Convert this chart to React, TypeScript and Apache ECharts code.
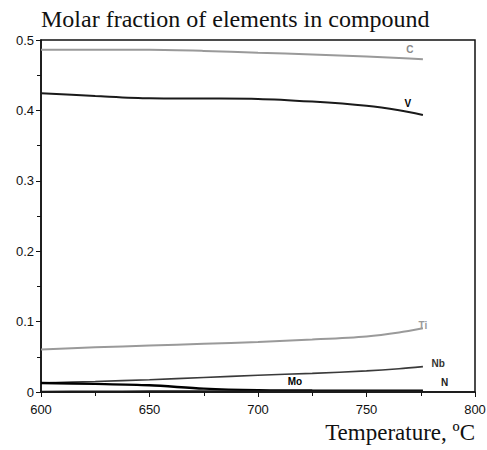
import React, { useEffect, useRef } from "react";
import * as echarts from "echarts";

const temps = [600, 625, 650, 675, 700, 725, 750, 765, 776];
const cVals = [0.486, 0.486, 0.486, 0.4845, 0.4818, 0.4795, 0.4765, 0.4745, 0.4726];
const vVals = [0.4243, 0.4205, 0.4172, 0.4168, 0.4163, 0.4125, 0.4065, 0.4002, 0.3935];
const tiVals = [0.0605, 0.0635, 0.066, 0.0685, 0.071, 0.0745, 0.079, 0.0845, 0.0905];
const nbVals = [0.0128, 0.015, 0.0175, 0.0205, 0.0238, 0.0265, 0.03, 0.033, 0.036];
const moVals = [0.0128, 0.0115, 0.0095, 0.0048, 0.0026, 0.0021, 0.002, 0.002, 0.002];
const nVals = [0.0005, 0.0007, 0.0009, 0.001, 0.0011, 0.0012, 0.0012, 0.0012, 0.0012];

const seriesNames = ["C", "V", "Ti", "Nb", "Mo", "N"];
const seriesColors = ["#9a9a9a", "#1a1a1a", "#9a9a9a", "#3a3a3a", "#000000", "#1a1a1a"];
const seriesWidths = [2, 2, 2, 1.6, 2.4, 2];
const labelX = [770, 769, 776, 783, 717, 786];
const labelY = [0.486, 0.4105, 0.095, 0.040, 0.0156, 0.0128];
const labelColors = ["#8a8a8a", "#000", "#9a9a9a", "#333", "#000", "#222"];

const xTicks = [600, 650, 700, 750, 800];
const yTicks = [0, 0.1, 0.2, 0.3, 0.4, 0.5];

export default function App() {
  const ref = useRef<HTMLDivElement>(null);
  useEffect(() => {
    if (!ref.current) return;
    document.body.style.margin = "0";
    const chart = echarts.init(ref.current, null, { renderer: "svg" });
    const allVals = [cVals, vVals, tiVals, nbVals, moVals, nVals];
    const series = seriesNames.map((name, i) => ({
      name,
      type: "line",
      smooth: 0.3,
      showSymbol: false,
      symbol: "none",
      data: temps.map((t, j) => [t, allVals[i][j]]),
      lineStyle: { color: seriesColors[i], width: seriesWidths[i] },
      itemStyle: { color: seriesColors[i] },
      markPoint: {
        symbol: "circle",
        symbolSize: 0,
        data: [{ coord: [labelX[i], labelY[i]] }],
        label: {
          show: true,
          formatter: name,
          position: "inside",
          color: labelColors[i],
          fontFamily: "Liberation Sans, Arial, sans-serif",
          fontWeight: "bold",
          fontSize: 10,
        },
      },
    }));
    chart.setOption({
      animation: false,
      backgroundColor: "#fff",
      title: {
        text: "Molar fraction of elements in compound",
        left: 36,
        top: 2,
        textStyle: {
          fontFamily: "Liberation Serif, Times New Roman, serif",
          fontWeight: "normal",
          fontSize: 24,
          color: "#111",
        },
      },
      grid: {
        left: 41,
        right: 12,
        top: 40,
        bottom: 58,
        outerBoundsMode: "none",
        containLabel: false,
        show: true,
        borderColor: "#111",
        borderWidth: 1.5,
        backgroundColor: "transparent",
      },
      xAxis: {
        type: "value",
        min: xTicks[0],
        max: xTicks[xTicks.length - 1],
        interval: 50,
        axisLine: { show: true, lineStyle: { color: "#111", width: 1.5 } },
        axisTick: { show: true, inside: false, length: 5, lineStyle: { color: "#111" } },
        minorTick: { show: true, splitNumber: 2, length: 4, lineStyle: { color: "#111" } },
        splitLine: { show: false },
        axisLabel: {
          color: "#111",
          fontSize: 13,
          fontFamily: "Liberation Sans, Arial, sans-serif",
          margin: 11,
        },
      },
      yAxis: {
        type: "value",
        min: yTicks[0],
        max: yTicks[yTicks.length - 1],
        interval: 0.1,
        axisLine: { show: true, lineStyle: { color: "#111", width: 1.5 } },
        axisTick: { show: true, inside: false, length: 5, lineStyle: { color: "#111" } },
        minorTick: { show: true, splitNumber: 2, length: 4, lineStyle: { color: "#111" } },
        splitLine: { show: false },
        axisLabel: {
          color: "#111",
          fontSize: 13,
          fontFamily: "Liberation Sans, Arial, sans-serif",
          margin: 7,
          formatter: (v: number) => (v === 0 ? "0" : v.toFixed(1)),
        },
      },
      graphic: [
        {
          type: "text",
          right: 12,
          top: 421,
          style: {
            text: "Temperature, ºC",
            fontFamily: "Liberation Serif, Times New Roman, serif",
            fontSize: 23,
            fill: "#111",
          },
        },
      ],
      series,
    });
    return () => chart.dispose();
  }, []);
  return <div ref={ref} style={{ width: 487, height: 450 }} />;
}
